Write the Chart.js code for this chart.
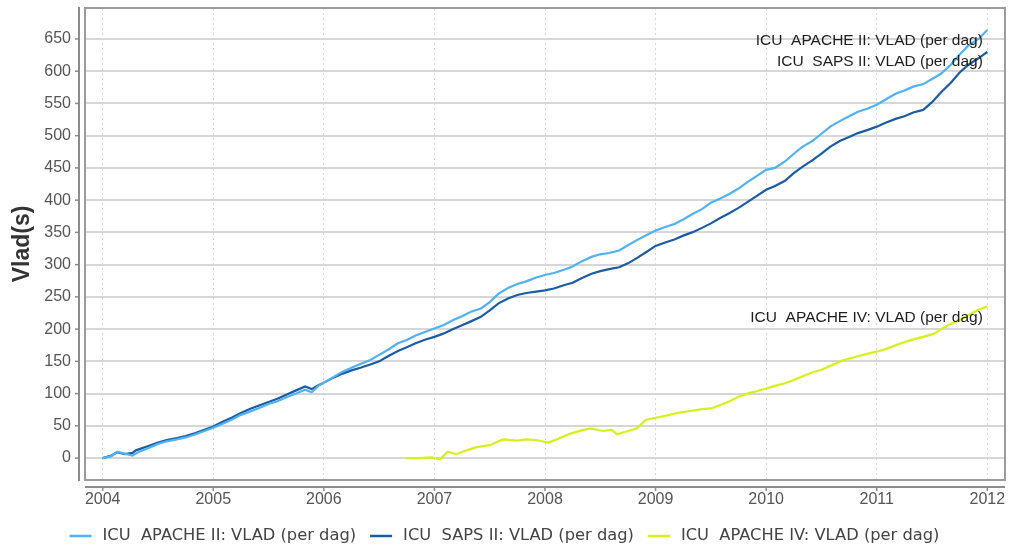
<!DOCTYPE html>
<html><head><meta charset="utf-8">
<script src="https://cdn.jsdelivr.net/npm/chart.js@4"></script>
<style>html,body{margin:0;padding:0;background:#fff}</style>
</head><body>
<canvas id="c" width="1009" height="550"></canvas>
<script>
const seriesNames = ["ICU  APACHE II: VLAD (per dag)", "ICU  SAPS II: VLAD (per dag)", "ICU  APACHE IV: VLAD (per dag)"];
const xTickYears = [2004, 2005, 2006, 2007, 2008, 2009, 2010, 2011, 2012];
const yTickValues = [0, 50, 100, 150, 200, 250, 300, 350, 400, 450, 500, 550, 600, 650];

const apache2Years = [2004.00,2004.08,2004.13,2004.20,2004.27,2004.33,2004.42,2004.50,2004.58,2004.67,2004.75,2004.84,2004.92,
  2005.00,2005.08,2005.17,2005.25,2005.33,2005.42,2005.50,2005.58,2005.67,2005.75,2005.83,2005.89,2005.95,
  2006.00,2006.08,2006.17,2006.25,2006.33,2006.42,2006.50,2006.58,2006.67,2006.75,2006.83,2006.92,
  2007.00,2007.08,2007.17,2007.25,2007.33,2007.42,2007.50,2007.58,2007.67,2007.75,2007.83,2007.92,
  2008.00,2008.08,2008.17,2008.25,2008.33,2008.42,2008.50,2008.58,2008.67,2008.75,2008.83,2008.92,
  2009.00,2009.08,2009.17,2009.25,2009.33,2009.42,2009.50,2009.58,2009.67,2009.75,2009.83,2009.92,
  2010.00,2010.08,2010.17,2010.25,2010.33,2010.42,2010.50,2010.58,2010.67,2010.75,2010.83,2010.92,
  2011.00,2011.08,2011.17,2011.25,2011.33,2011.42,2011.50,2011.58,2011.67,2011.75,2011.83,2011.92,2012.00];
const apache2Values = [0,3,10,7,4,10,16,22,26,29,32,37,42,
  47,53,60,67,72,78,84,88,95,100,106,102,112,
  117,125,134,140,146,152,160,168,178,183,190,196,
  201,206,214,220,227,232,242,255,264,270,274,280,
  284,287,292,297,305,312,316,318,322,330,338,346,
  353,358,363,370,378,386,396,402,410,418,428,438,
  447,450,460,472,483,492,503,514,523,530,537,542,
  548,556,565,570,576,580,588,596,610,626,640,650,664];

const saps2Years = [2004.00,2004.08,2004.13,2004.20,2004.27,2004.30,2004.42,2004.50,2004.58,2004.67,2004.75,2004.84,2004.92,
  2005.00,2005.08,2005.17,2005.25,2005.33,2005.42,2005.50,2005.58,2005.67,2005.75,2005.83,2005.89,2005.95,
  2006.00,2006.08,2006.17,2006.25,2006.33,2006.42,2006.50,2006.58,2006.67,2006.75,2006.83,2006.92,
  2007.00,2007.08,2007.17,2007.25,2007.33,2007.42,2007.50,2007.58,2007.67,2007.75,2007.83,2007.92,
  2008.00,2008.08,2008.17,2008.25,2008.33,2008.42,2008.50,2008.58,2008.67,2008.75,2008.83,2008.92,
  2009.00,2009.08,2009.17,2009.25,2009.33,2009.42,2009.50,2009.58,2009.67,2009.75,2009.83,2009.92,
  2010.00,2010.08,2010.17,2010.25,2010.33,2010.42,2010.50,2010.58,2010.67,2010.75,2010.83,2010.92,
  2011.00,2011.08,2011.17,2011.25,2011.33,2011.42,2011.50,2011.58,2011.67,2011.75,2011.83,2011.92,2012.00];
const saps2Values = [0,4,9,6,8,12,19,24,28,31,34,39,44,
  49,56,63,70,76,82,87,92,99,105,111,107,113,
  117,124,131,136,140,145,150,158,166,172,178,184,
  188,193,200,206,212,219,229,240,248,253,256,258,
  260,263,268,272,279,286,290,293,296,302,310,320,
  329,334,339,345,350,357,364,372,380,388,397,407,
  416,422,430,442,452,462,472,483,492,498,504,509,
  514,520,526,530,536,540,552,567,582,598,610,620,630];

const apache4Years = [2006.74,2006.85,2006.98,2007.05,2007.12,2007.20,2007.29,2007.38,2007.50,2007.58,2007.62,2007.75,2007.83,2007.92,
  2008.03,2008.12,2008.23,2008.33,2008.41,2008.47,2008.53,2008.60,2008.65,2008.75,2008.83,2008.91,
  2009.01,2009.10,2009.20,2009.31,2009.42,2009.50,2009.58,2009.67,2009.75,2009.83,2009.92,
  2010.00,2010.08,2010.17,2010.25,2010.33,2010.42,2010.50,2010.58,2010.70,2010.83,2010.92,
  2011.00,2011.08,2011.22,2011.33,2011.42,2011.52,2011.58,2011.67,2011.75,2011.83,2011.92,2012.00];
const apache4Values = [0,0,1,-2,10,6,12,17,20,26,29,27,29,28,
  24,30,38,43,46,44,42,44,37,42,46,59,
  63,66,70,73,76,77,82,88,95,100,104,
  108,112,116,121,127,133,137,143,152,158,162,
  165,169,178,184,188,193,200,208,214,222,230,235];

const colors = ['#4fb2f2', '#1b5ca3', '#d6f01c'];

function pts(xs, ys) { return xs.map((x, i) => ({x: x, y: ys[i]})); }
function noPad(s) { s.paddingLeft = 0; s.paddingRight = 0; s.paddingTop = 0; s.paddingBottom = 0; }

const frameAndLabels = {
  id: 'frameAndLabels',
  beforeDatasetsDraw(chart) {
    const {ctx, chartArea: a} = chart;
    ctx.save();
    ctx.strokeStyle = '#9c9c9c';
    ctx.lineWidth = 2;
    ctx.strokeRect(a.left, a.top, a.right - a.left, a.bottom - a.top);
    ctx.restore();
  },
  afterDatasetsDraw(chart) {
    const {ctx, scales: {x, y}} = chart;
    const lab = chart.options.plugins.frameAndLabels.labels;
    ctx.save();
    ctx.font = '15.5px "Liberation Sans", Arial, sans-serif';
    ctx.fillStyle = '#1e1e1e';
    ctx.textAlign = 'right';
    ctx.textBaseline = 'middle';
    lab.forEach(l => ctx.fillText(l.text, x.getPixelForValue(l.x), y.getPixelForValue(l.y)));
    ctx.restore();
  },
  afterDraw(chart) {
    const {ctx, chartArea: a, scales: {x, y}} = chart;
    ctx.save();
    ctx.strokeStyle = '#8c8c8c';
    ctx.lineWidth = 2;
    const ax = a.left - 6;
    ctx.beginPath(); ctx.moveTo(ax, a.top - 1); ctx.lineTo(ax, a.bottom + 1); ctx.stroke();
    const ay = a.bottom + 7;
    ctx.beginPath(); ctx.moveTo(a.left, ay); ctx.lineTo(a.right, ay); ctx.stroke();
    ctx.lineWidth = 1.5;
    y.ticks.forEach(t => { const p = y.getPixelForValue(t.value); ctx.beginPath(); ctx.moveTo(ax - 4, p); ctx.lineTo(ax, p); ctx.stroke(); });
    x.ticks.forEach(t => { const p = x.getPixelForValue(t.value); ctx.beginPath(); ctx.moveTo(p, ay); ctx.lineTo(p, ay + 4); ctx.stroke(); });

    // legend
    const lg = chart.options.plugins.frameAndLabels.legend;
    ctx.font = lg.font;
    const items = chart.data.datasets.map(d => ({text: d.label, color: d.borderColor, w: ctx.measureText(d.label).width}));
    const total = items.reduce((s, it) => s + lg.boxW + lg.boxGap + it.w, 0) + lg.itemGap * (items.length - 1);
    let cx = (chart.width - total) / 2;
    ctx.textAlign = 'left';
    ctx.textBaseline = 'middle';
    items.forEach(it => {
      ctx.strokeStyle = it.color;
      ctx.lineWidth = 2.5;
      ctx.beginPath(); ctx.moveTo(cx, lg.y); ctx.lineTo(cx + lg.boxW, lg.y); ctx.stroke();
      ctx.fillStyle = '#444';
      ctx.fillText(it.text, cx + lg.boxW + lg.boxGap, lg.y);
      cx += lg.boxW + lg.boxGap + it.w + lg.itemGap;
    });
    ctx.restore();
  }
};

new Chart(document.getElementById('c'), {
  type: 'line',
  data: {
    datasets: [
      {label: seriesNames[0], data: pts(apache2Years, apache2Values), borderColor: colors[0], backgroundColor: colors[0], borderWidth: 2.2, pointRadius: 0, tension: 0},
      {label: seriesNames[1], data: pts(saps2Years, saps2Values), borderColor: colors[1], backgroundColor: colors[1], borderWidth: 2.2, pointRadius: 0, tension: 0},
      {label: seriesNames[2], data: pts(apache4Years, apache4Values), borderColor: colors[2], backgroundColor: colors[2], borderWidth: 2.2, pointRadius: 0, tension: 0}
    ]
  },
  options: {
    responsive: false,
    animation: false,
    devicePixelRatio: 1,
    layout: {padding: {left: 0, right: 4, top: 8, bottom: 40}},
    scales: {
      x: {
        type: 'linear', min: 2003.84, max: 2012.16,
        afterBuildTicks: s => { s.ticks = xTickYears.map(v => ({value: v})); },
        afterFit: s => { s.height = 30; noPad(s); },
        ticks: {callback: v => String(v), color: '#555', font: {family: '"Liberation Sans", Arial, sans-serif', size: 16}, padding: 10, maxRotation: 0, autoSkip: false},
        grid: {color: '#d8d8d8', lineWidth: 1, drawTicks: false},
        border: {display: false, dash: [2, 3]}
      },
      y: {
        min: -34, max: 698,
        afterBuildTicks: s => { s.ticks = yTickValues.map(v => ({value: v})); },
        afterFit: s => { s.width = 85; noPad(s); },
        ticks: {color: '#555', font: {family: '"Liberation Sans", Arial, sans-serif', size: 16}, padding: 14, autoSkip: false},
        grid: {color: '#d6d6d6', lineWidth: 2, drawTicks: false},
        border: {display: false},
        title: {display: true, text: 'Vlad(s)', color: '#333', font: {family: '"Liberation Sans", Arial, sans-serif', size: 23, weight: 'bold'}, padding: {top: 9, bottom: 0}}
      }
    },
    plugins: {
      legend: {display: false},
      tooltip: {enabled: false},
      frameAndLabels: {
        labels: [
          {text: seriesNames[0], x: 2011.96, y: 648},
          {text: seriesNames[1], x: 2011.96, y: 615},
          {text: seriesNames[2], x: 2011.96, y: 217}
        ],
        legend: {font: '16.3px "DejaVu Sans", sans-serif', y: 536, boxW: 22, boxGap: 11, itemGap: 14}
      }
    }
  },
  plugins: [frameAndLabels]
});
</script>
</body></html>
